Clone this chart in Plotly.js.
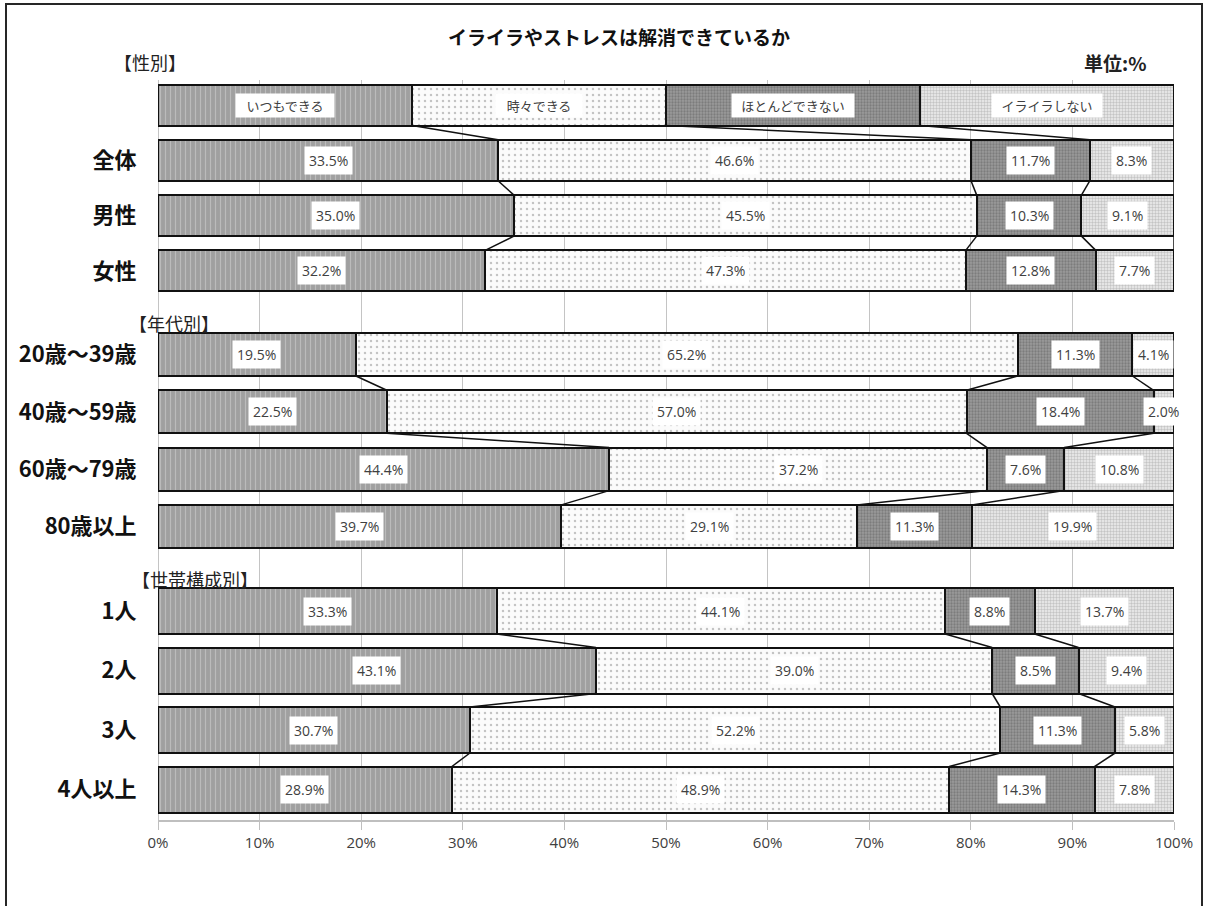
<!DOCTYPE html>
<html><head><meta charset="utf-8">
<script src="https://cdn.plot.ly/plotly-3.0.1.min.js"></script>
<style>
body{margin:0;background:#fff}
#chart{width:1208px;height:906px}
#frame{position:absolute;left:5px;top:3px;width:1198px;height:912px;border:2px solid #262626;pointer-events:none;box-sizing:border-box}
</style>
</head><body><div id="chart"></div><div id="frame"></div>
<script>
// ---------------- data ----------------
const chartTitle = 'イライラやストレスは解消できているか';
const unitLabel = '単位:%';
const seriesNames = ['いつもできる', '時々できる', 'ほとんどできない', 'イライラしない'];
const sectionLabels = ['【性別】', '【年代別】', '【世帯構成別】'];

const genderCats = ['全体', '男性', '女性'];
const genderAlways    = [33.5, 35.0, 32.2];
const genderSometimes = [46.6, 45.5, 47.3];
const genderRarely    = [11.7, 10.3, 12.8];
const genderNever     = [8.3, 9.1, 7.7];

const ageCats = ['20歳～39歳', '40歳～59歳', '60歳～79歳', '80歳以上'];
const ageAlways    = [19.5, 22.5, 44.4, 39.7];
const ageSometimes = [65.2, 57.0, 37.2, 29.1];
const ageRarely    = [11.3, 18.4, 7.6, 11.3];
const ageNever     = [4.1, 2.0, 10.8, 19.9];

const householdCats = ['1人', '2人', '3人', '4人以上'];
const householdAlways    = [33.3, 43.1, 30.7, 28.9];
const householdSometimes = [44.1, 39.0, 52.2, 48.9];
const householdRarely    = [8.8, 8.5, 11.3, 14.3];
const householdNever     = [13.7, 9.4, 5.8, 7.8];

const xTickVals = [0, 10, 20, 30, 40, 50, 60, 70, 80, 90, 100];
const xTickText = ['0%', '10%', '20%', '30%', '40%', '50%', '60%', '70%', '80%', '90%', '100%'];

// ---------------- layout constants ----------------
const W = 1208, H = 906;
const plotL = 158, plotR = 1174, plotT = 80, plotB = 820;
const groupFirstY = [105, 354.5, 611];   // centre of first row of each group (px)
const groupStep = [55.3, 57.3, 59.5];
const groupBarW = [41, 43, 46];
const sectionPos = [[150, 62], [174, 323], [195, 579]];
const JP = '"Noto Sans CJK JP", "Noto Sans", sans-serif';
const NUM = '"Open Sans", "Liberation Sans", sans-serif';

const styles = [
  {bg: '#a0a0a0', fg: '#d6d6d6', shape: '|', size: 5, sol: 0.22},
  {bg: '#fbfbfb', fg: '#8c8c8c', shape: '.', size: 6, sol: 0.13},
  {bg: '#9a9a9a', fg: '#5e5e5e', shape: '.', size: 3, sol: 0.45},
  {bg: '#eeeeee', fg: '#9a9a9a', shape: '.', size: 3, sol: 0.5}
];

const px = p => (p - plotL) / (plotR - plotL);
const py = p => (plotB - p) / (plotB - plotT);

// ---------------- build rows ----------------
const groups = [
  {cats: genderCats, vals: [genderAlways, genderSometimes, genderRarely, genderNever], legendRow: true},
  {cats: ageCats, vals: [ageAlways, ageSometimes, ageRarely, ageNever]},
  {cats: householdCats, vals: [householdAlways, householdSometimes, householdRarely, householdNever]}
];

const rows = [];
groups.forEach((g, gi) => {
  const list = [];
  let idx = 0;
  if (g.legendRow) {
    const share = 100 / seriesNames.length;
    list.push({legend: true, raw: seriesNames.map(() => share)});
  }
  g.cats.forEach((c, ci) => list.push({label: c, raw: g.vals.map(s => s[ci])}));
  list.forEach(r => {
    r.group = gi;
    r.y = groupFirstY[gi] + idx * groupStep[gi];
    r.w = groupBarW[gi];
    const tot = r.raw.reduce((a, b) => a + b, 0);
    r.norm = r.raw.map(v => v / tot * 100);
    r.cum = [];
    let c = 0;
    r.norm.forEach(v => { c += v; r.cum.push(c); });
    idx++;
    rows.push(r);
  });
});

// ---------------- traces ----------------
const traces = seriesNames.map((name, s) => ({
  type: 'bar', orientation: 'h', name: name,
  x: rows.map(r => r.norm[s]),
  y: rows.map(r => r.y),
  width: rows.map(r => r.w),
  marker: {
    color: styles[s].bg,
    line: {color: '#111', width: 2},
    pattern: {shape: styles[s].shape, bgcolor: styles[s].bg, fgcolor: styles[s].fg,
              size: styles[s].size, solidity: styles[s].sol, fillmode: 'overlay'}
  },
  hoverinfo: 'skip', showlegend: false
}));

// series lines
const lx = [], ly = [];
for (let i = 0; i < rows.length - 1; i++) {
  const a = rows[i], b = rows[i + 1];
  if (a.group !== b.group) continue;
  for (let k = 0; k < seriesNames.length; k++) {
    lx.push(a.cum[k], b.cum[k], null);
    ly.push(a.y + a.w / 2, b.y - b.w / 2, null);
  }
}
traces.push({type: 'scatter', mode: 'lines', x: lx, y: ly,
  line: {color: '#111', width: 1.5}, hoverinfo: 'skip', showlegend: false, cliponaxis: false});

// ---------------- annotations ----------------
const annotations = [];
rows.forEach(r => {
  r.norm.forEach((v, s) => {
    const xc = r.cum[s] - v / 2;
    if (r.legend) {
      annotations.push({x: xc, y: r.y, xref: 'x', yref: 'y', text: seriesNames[s], showarrow: false,
        xanchor: 'center', yanchor: 'middle',
        bgcolor: '#fff', width: 12 * seriesNames[s].length + 24, height: 21, borderpad: 1,
        font: {family: JP, size: 13, color: '#404040'}});
    } else {
      annotations.push({x: xc, y: r.y, xref: 'x', yref: 'y', text: r.raw[s].toFixed(1) + '%', showarrow: false,
        xanchor: 'center', yanchor: 'middle',
        bgcolor: '#fff', borderpad: 4,
        font: {family: NUM, size: 14, color: '#404040'}});
    }
  });
});
sectionLabels.forEach((t, i) => annotations.push({
  x: px(sectionPos[i][0]), y: py(sectionPos[i][1]), xref: 'paper', yref: 'paper', text: t, showarrow: false,
  xanchor: 'center', yanchor: 'middle',
  font: {family: JP, size: 18, color: '#222'}
}));
annotations.push({x: px(1115), y: py(62), xref: 'paper', yref: 'paper', text: unitLabel, showarrow: false,
  xanchor: 'center', yanchor: 'middle',
  font: {family: JP, size: 19, color: '#222', weight: 'bold'}});

const dataRows = rows.filter(r => !r.legend);

const layout = {
  width: W, height: H,
  margin: {l: plotL, r: W - plotR, t: plotT, b: H - plotB},
  paper_bgcolor: '#fff', plot_bgcolor: '#fff',
  barmode: 'stack', bargap: 0,
  title: {text: '<b>' + chartTitle + '</b>', x: 619 / W, xanchor: 'center', xref: 'container',
          y: 1 - 38 / H, yanchor: 'middle', yref: 'container',
          font: {family: JP, size: 19, color: '#111'}},
  xaxis: {range: [0, 100], tickvals: xTickVals, ticktext: xTickText,
          showgrid: true, gridcolor: '#c4c4c4', gridwidth: 1,
          zeroline: true, zerolinecolor: '#c4c4c4', zerolinewidth: 1,
          showline: true, linecolor: '#bfbfbf', linewidth: 2,
          ticks: 'outside', ticklen: 8, tickcolor: '#bfbfbf',
          tickfont: {family: NUM, size: 15, color: '#404040'}, fixedrange: true},
  yaxis: {range: [plotB, plotT], tickvals: dataRows.map(r => r.y), ticktext: dataRows.map(r => r.label),
          showgrid: false, zeroline: false, showline: false,
          ticks: 'outside', ticklen: 16, tickcolor: 'rgba(0,0,0,0)',
          tickfont: {family: JP, size: 22, color: '#111', weight: 'bold'}, fixedrange: true},
  annotations: annotations,
  showlegend: false
};

Plotly.newPlot('chart', traces, layout, {displayModeBar: false, staticPlot: true});
</script>
</body></html>
